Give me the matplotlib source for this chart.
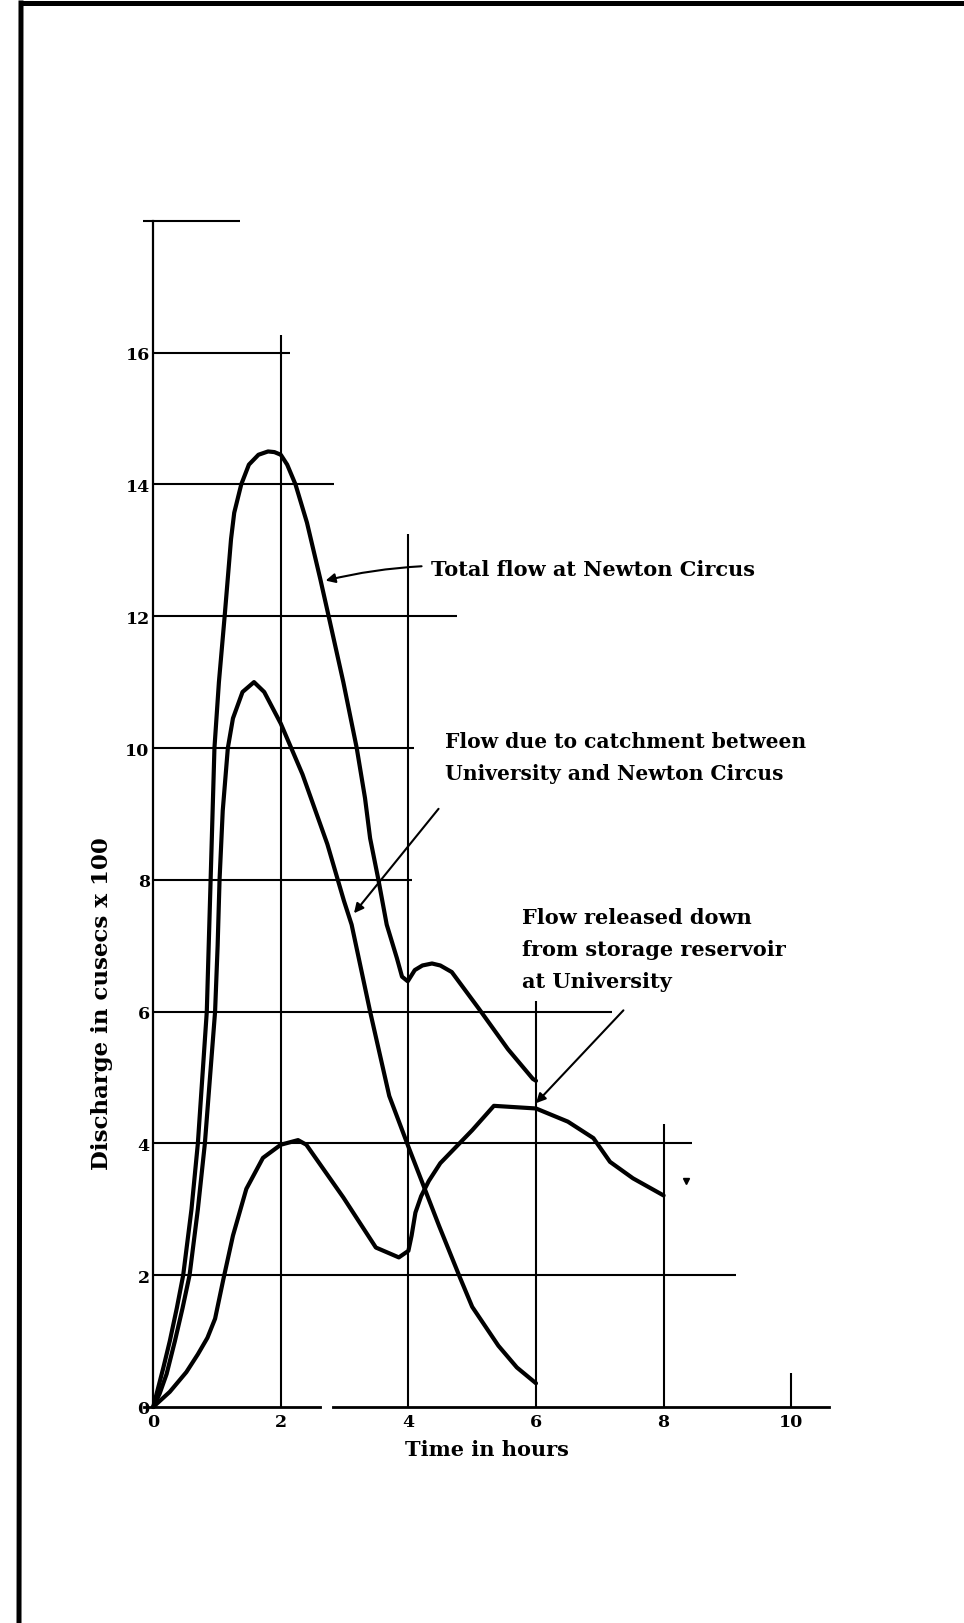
import matplotlib
matplotlib.use('Agg')
import matplotlib.pyplot as plt
from matplotlib.lines import Line2D

# hours / discharge (cusecs x 100)
total_t = [0, 0.08, 0.16, 0.26, 0.37, 0.47, 0.6, 0.7, 0.77, 0.84, 0.87, 0.9, 0.96, 1.03, 1.12,
           1.22, 1.27, 1.38, 1.5, 1.65, 1.8, 1.9, 2.0, 2.1, 2.23, 2.41, 2.62, 2.75, 2.98, 3.19,
           3.32, 3.4, 3.53, 3.66, 3.82, 3.9, 3.99, 4.1, 4.22, 4.37, 4.5, 4.68, 5.1, 5.56, 5.95, 6.0]
total_q = [0, 0.3, 0.6, 1.0, 1.5, 2.0, 3.0, 4.0, 5.0, 6.0, 7.0, 8.0, 10.0, 11.0, 12.0,
           13.17, 13.57, 14.0, 14.3, 14.45, 14.5, 14.49, 14.45, 14.3, 14.0, 13.42, 12.56, 12.0, 11.0, 10.0,
           9.24, 8.63, 8.0, 7.32, 6.81, 6.53, 6.46, 6.63, 6.7, 6.73, 6.7, 6.6, 6.05, 5.43, 4.98, 4.95]

catch_t = [0, 0.1, 0.21, 0.34, 0.46, 0.57, 0.7, 0.81, 0.89, 0.97, 1.01, 1.04, 1.09, 1.17, 1.25,
           1.4, 1.58, 1.74, 2.0, 2.34, 2.73, 2.99, 3.11, 3.4, 3.7, 4.0, 4.48, 4.81, 5.0, 5.41, 5.7, 6.0]
catch_q = [0, 0.2, 0.5, 1.0, 1.5, 2.0, 3.0, 4.0, 5.0, 6.0, 7.0, 8.0, 9.05, 10.0, 10.45,
           10.85, 11.0, 10.85, 10.37, 9.6, 8.54, 7.68, 7.32, 6.0, 4.72, 3.95, 2.75, 1.96, 1.52, 0.93, 0.6, 0.36]

res_t = [0, 0.26, 0.52, 0.7, 0.85, 0.97, 1.1, 1.25, 1.46, 1.72, 2.0, 2.27, 2.4, 2.98, 3.49, 3.85,
         4.0, 4.05, 4.11, 4.2, 4.32, 4.5, 4.74, 5.0, 5.34, 6.0, 6.5, 6.9, 7.16, 7.52, 8.0]
res_q = [0, 0.23, 0.53, 0.8, 1.05, 1.34, 1.94, 2.6, 3.31, 3.78, 3.98, 4.05, 3.98, 3.18, 2.42, 2.27,
         2.37, 2.6, 2.95, 3.2, 3.43, 3.7, 3.94, 4.2, 4.57, 4.53, 4.33, 4.08, 3.72, 3.47, 3.21]

# hand-drawn grid: each level only runs part way across
hgrid_y = [2, 4, 6, 8, 10, 12, 14, 16]
hgrid_end = [9.14, 8.44, 7.19, 4.06, 4.09, 4.76, 2.84, 2.14]
vgrid_x = [2, 4, 6, 8, 10]
vgrid_top = [16.26, 13.24, 6.16, 4.29, 0.52]

yticks = [0, 2, 4, 6, 8, 10, 12, 14, 16]
xticks = [0, 2, 4, 6, 8, 10]

W, H = 964, 1624
fig = plt.figure(figsize=(W / 100, H / 100), dpi=100)
fig.patch.set_facecolor('white')

# axes placed so that data units land where the scan has them
x0_px, px_h = 153.2, 63.8
y0_px, px_q = 1408.0, 65.9
xlim = (-1, 11)
ylim = (-1, 19)
left = (x0_px + xlim[0] * px_h) / W
right = (x0_px + xlim[1] * px_h) / W
bottom = 1 - (y0_px - ylim[0] * px_q) / H
top = 1 - (y0_px - ylim[1] * px_q) / H
ax = fig.add_axes([left, bottom, right - left, top - bottom])
ax.set_xlim(*xlim)
ax.set_ylim(*ylim)

font = dict(family='DejaVu Serif', weight='bold', color='black')

for s in ['top', 'right']:
    ax.spines[s].set_visible(False)
ax.spines['left'].set_position(('data', 0))
ax.spines['left'].set_bounds(0, 18)
ax.spines['bottom'].set_position(('data', 0))
ax.spines['bottom'].set_bounds(-0.15, 10.6)
ax.spines['left'].set_linewidth(1.6)
ax.spines['bottom'].set_linewidth(2.0)
ax.set_xticks(xticks)
ax.set_yticks(yticks)
ax.set_xticklabels([str(v) for v in xticks], fontdict=dict(size=12.5, **font))
ax.set_yticklabels([str(v) for v in yticks], fontdict=dict(size=12.5, **font))
ax.tick_params(axis='x', length=0, pad=4)
ax.tick_params(axis='y', length=0, pad=2.5)

# small break in the x axis line from the scan
ax.plot([2.68, 2.77], [0, 0], color='white', lw=3, zorder=3)

grid_kw = dict(color='black', lw=1.5, zorder=2, solid_capstyle='butt')
ax.plot([-0.16, 1.36], [18, 18], **grid_kw)
for y, e in zip(hgrid_y, hgrid_end):
    ax.plot([0, e], [y, y], **grid_kw)
for x, t in zip(vgrid_x, vgrid_top):
    ax.plot([x, x], [0, t], **grid_kw)

curve_kw = dict(color='black', lw=3.0, zorder=4, solid_joinstyle='round', solid_capstyle='round')
ax.plot(total_t, total_q, **curve_kw)
ax.plot(catch_t, catch_q, **curve_kw)
ax.plot(res_t, res_q, **curve_kw)

arrow_kw = dict(arrowstyle='-|>', color='black', lw=1.5, mutation_scale=14)
ax.annotate('', xy=(2.66, 12.53), xytext=(4.25, 12.76),
            arrowprops=dict(connectionstyle='arc3,rad=0.05', **arrow_kw))
ax.annotate('', xy=(3.12, 7.46), xytext=(4.5, 9.11), arrowprops=arrow_kw)
ax.annotate('', xy=(5.97, 4.58), xytext=(7.4, 6.05), arrowprops=arrow_kw)

ax.text(4.35, 12.72, 'Total flow at Newton Circus', size=15, va='center', ha='left', **font)
ax.text(4.57, 9.86, 'Flow due to catchment between\nUniversity and Newton Circus',
        size=14.6, va='center', ha='left', linespacing=1.78, **font)
ax.text(5.78, 6.95, 'Flow released down\nfrom storage reservoir\nat University',
        size=15, va='center', ha='left', linespacing=1.75, **font)

ax.text(-0.8, 6.13, 'Discharge in cusecs x 100', size=16.5, rotation=90,
        va='center', ha='center', **font)
ax.text(5.23, -0.64, 'Time in hours', size=15, va='center', ha='center', **font)

# scan speck
ax.plot([8.35], [3.43], marker='v', color='black', ms=5, zorder=4)

# page border from the scan
fig.add_artist(Line2D([21 / W, 19 / W], [1 - 4 / H, 0], color='black', lw=3.6))
fig.add_artist(Line2D([21 / W, 1], [1 - 4 / H, 1 - 4 / H], color='black', lw=3.6))

fig.savefig('out.png', dpi=100, facecolor='white')
